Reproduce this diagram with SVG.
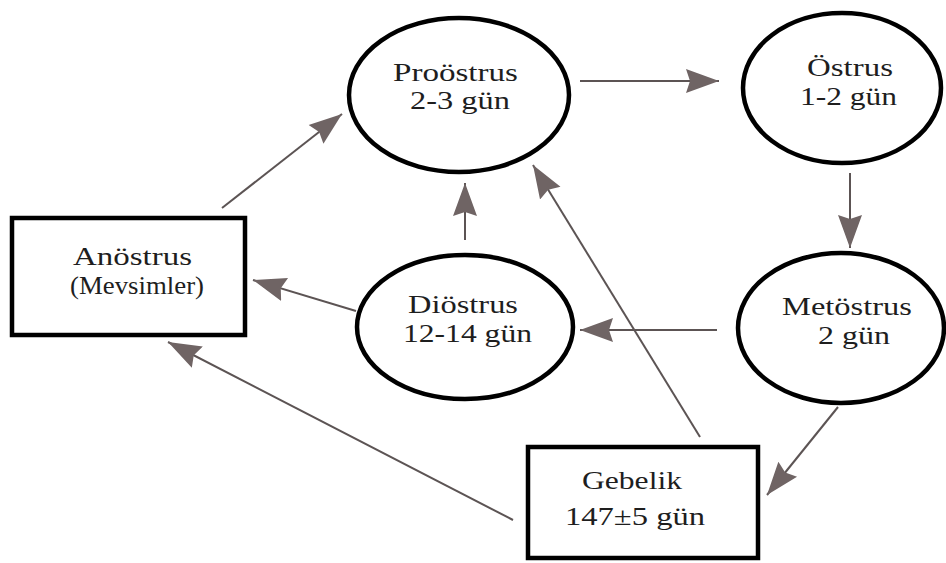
<svg xmlns="http://www.w3.org/2000/svg" width="946" height="563" viewBox="0 0 946 563">
<style>
.node{fill:#fff;stroke:#000;stroke-width:4.5}
.lbl{font-family:"Liberation Serif","Times New Roman",serif;font-size:26px;fill:#1e1e1e}
.edge{stroke:#5c5454;stroke-width:2;fill:none;marker-end:url(#ah)}
</style>
<defs>
<marker id="ah" markerUnits="userSpaceOnUse" markerWidth="34" markerHeight="28" viewBox="0 0 34 28" refX="33" refY="14" orient="auto">
<path d="M0,2 L33,14 L0,26 L4,14 Z" fill="#6f6464"/>
</marker>
</defs>
<rect width="946" height="563" fill="#fff"/>
<g id="connectors">
<line class="edge" x1="222" y1="208" x2="342" y2="114"/>
<line class="edge" x1="580" y1="81" x2="719" y2="81"/>
<line class="edge" x1="850" y1="173" x2="850" y2="248"/>
<line class="edge" x1="717" y1="330" x2="580" y2="330"/>
<line class="edge" x1="356" y1="311" x2="253" y2="280"/>
<line class="edge" x1="465" y1="240" x2="465" y2="183"/>
<line class="edge" x1="838" y1="407" x2="767" y2="495"/>
<line class="edge" x1="700" y1="437" x2="533" y2="165"/>
<line class="edge" x1="513" y1="520" x2="168" y2="342"/>
</g>
<g id="proostrus">
<ellipse class="node" cx="459" cy="95" rx="110" ry="77"/>
<text class="lbl" x="393" y="81" textLength="125" lengthAdjust="spacingAndGlyphs">Proöstrus</text>
<text class="lbl" x="410" y="109" textLength="100" lengthAdjust="spacingAndGlyphs">2-3 gün</text>
</g>
<g id="ostrus">
<ellipse class="node" cx="842" cy="88" rx="99" ry="75"/>
<text class="lbl" x="807" y="76" textLength="86" lengthAdjust="spacingAndGlyphs">Östrus</text>
<text class="lbl" x="800" y="105" textLength="97" lengthAdjust="spacingAndGlyphs">1-2 gün</text>
</g>
<g id="anostrus">
<rect class="node" x="12" y="218" width="233" height="117"/>
<text class="lbl" x="73" y="265" textLength="119" lengthAdjust="spacingAndGlyphs">Anöstrus</text>
<text class="lbl" x="70" y="294" textLength="134" lengthAdjust="spacingAndGlyphs">(Mevsimler)</text>
</g>
<g id="diostrus">
<ellipse class="node" cx="465" cy="327" rx="108" ry="72"/>
<text class="lbl" x="408" y="313" textLength="110" lengthAdjust="spacingAndGlyphs">Diöstrus</text>
<text class="lbl" x="403" y="342" textLength="129" lengthAdjust="spacingAndGlyphs">12-14 gün</text>
</g>
<g id="metostrus">
<ellipse class="node" cx="841" cy="328" rx="103" ry="75"/>
<text class="lbl" x="782" y="315" textLength="130" lengthAdjust="spacingAndGlyphs">Metöstrus</text>
<text class="lbl" x="818" y="344" textLength="72" lengthAdjust="spacingAndGlyphs">2 gün</text>
</g>
<g id="gebelik">
<rect class="node" x="528" y="447" width="230" height="111"/>
<text class="lbl" x="582" y="489" textLength="100" lengthAdjust="spacingAndGlyphs">Gebelik</text>
<text class="lbl" x="565" y="525" textLength="140" lengthAdjust="spacingAndGlyphs">147±5 gün</text>
</g>
</svg>
